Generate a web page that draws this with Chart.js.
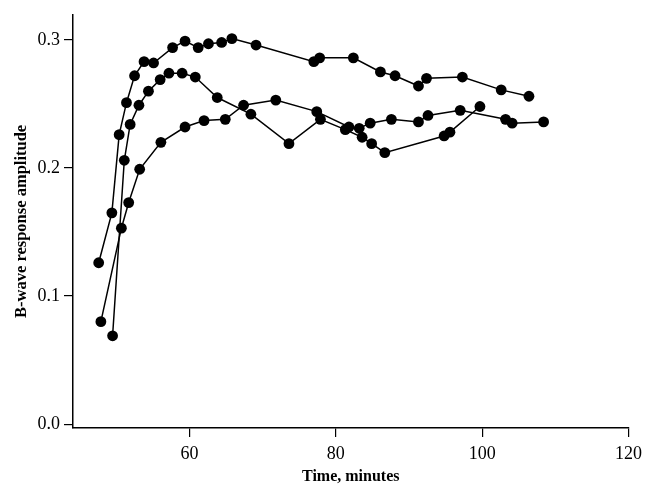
<!DOCTYPE html>
<html>
<head>
<meta charset="utf-8">
<script src="https://cdn.jsdelivr.net/npm/chart.js@4/dist/chart.umd.min.js"></script>
<style>
  html, body { margin: 0; padding: 0; background: #fff; }
  #wrap { width: 648px; height: 495px; }
</style>
</head>
<body>
<div id="wrap"><canvas id="bwave-chart" width="648" height="495"></canvas></div>
<script>
// Three recording runs, time in minutes vs B-wave amplitude
const timeA = [47.6, 49.4, 50.4, 51.4, 52.5, 53.8, 55.1, 57.7, 59.4, 61.2, 62.6, 64.4, 65.8, 69.1, 77.0, 77.8, 82.4, 86.1, 88.1, 91.3, 92.4, 97.3, 102.6, 106.4];
const ampA = [0.126, 0.165, 0.226, 0.251, 0.272, 0.283, 0.282, 0.294, 0.299, 0.294, 0.297, 0.298, 0.301, 0.296, 0.283, 0.286, 0.286, 0.275, 0.272, 0.264, 0.270, 0.271, 0.261, 0.256];

const timeB = [49.5, 51.1, 51.9, 53.1, 54.4, 56.0, 57.2, 59.0, 60.8, 63.8, 68.4, 73.6, 77.9, 81.3, 83.6, 84.9, 86.7, 94.8, 95.6, 99.7];
const ampB = [0.069, 0.206, 0.234, 0.249, 0.260, 0.269, 0.274, 0.274, 0.271, 0.255, 0.242, 0.219, 0.238, 0.230, 0.224, 0.219, 0.212, 0.225, 0.228, 0.248];

const timeC = [47.9, 50.7, 51.7, 53.2, 56.1, 59.4, 62.0, 64.9, 67.4, 71.8, 77.4, 81.8, 83.2, 84.7, 87.6, 91.3, 92.6, 97.0, 103.2, 104.1, 108.4];
const ampC = [0.080, 0.153, 0.173, 0.199, 0.220, 0.232, 0.237, 0.238, 0.249, 0.253, 0.244, 0.232, 0.231, 0.235, 0.238, 0.236, 0.241, 0.245, 0.238, 0.235, 0.236];

const xTicks = [60, 80, 100, 120];
const yTicks = [0.0, 0.1, 0.2, 0.3];

// pair up x and y arrays for a scatter dataset
function toPoints(xs, ys) {
    return xs.map((x, i) => ({ x: x, y: ys[i] }));
}

function makeSeries(xs, ys) {
    return {
        data: toPoints(xs, ys),
        showLine: true,
        borderColor: '#000',
        backgroundColor: '#000',
        borderWidth: 1.5,
        pointRadius: 5.4,
        pointBorderWidth: 0,
        pointBackgroundColor: '#000'
    };
}

const serif = "'Liberation Serif', 'Times New Roman', serif";

const ctx = document.getElementById('bwave-chart').getContext('2d');
new Chart(ctx, {
    type: 'scatter',
    data: {
        datasets: [makeSeries(timeA, ampA), makeSeries(timeB, ampB), makeSeries(timeC, ampC)]
    },
    options: {
        responsive: false,
        animation: false,
        layout: { padding: { top: 10, right: 19, left: 0, bottom: 0 } },
        plugins: { legend: { display: false }, tooltip: { enabled: false } },
        scales: {
            x: {
                type: 'linear',
                min: 44.09,
                max: 120,
                afterBuildTicks: axis => { axis.ticks = xTicks.map(v => ({ value: v })); },
                afterFit: axis => { axis.height = 67; },
                grid: { drawOnChartArea: false, drawTicks: true, tickLength: 9, color: '#000', lineWidth: 1.2 },
                border: { color: '#000', width: 1.5 },
                ticks: { color: '#000', font: { family: serif, size: 18 }, padding: 6, maxRotation: 0 },
                title: {
                    display: true,
                    text: 'Time, minutes',
                    color: '#000',
                    font: { family: serif, size: 16, weight: 'bold' },
                    padding: { top: 0, bottom: 9 }
                }
            },
            y: {
                type: 'linear',
                min: -0.003,
                max: 0.3196,
                afterBuildTicks: axis => { axis.ticks = yTicks.map(v => ({ value: v })); },
                afterFit: axis => { axis.width = 73; },
                grid: { drawOnChartArea: false, drawTicks: true, tickLength: 9, color: '#000', lineWidth: 1.2 },
                border: { color: '#000', width: 1.5 },
                ticks: {
                    color: '#000',
                    font: { family: serif, size: 18 },
                    padding: 4,
                    callback: v => v.toFixed(1)
                },
                title: {
                    display: true,
                    text: 'B-wave response amplitude',
                    color: '#000',
                    font: { family: serif, size: 16.5, weight: 'bold' },
                    padding: { top: 12, bottom: 0 }
                }
            }
        }
    }
});
</script>
</body>
</html>
